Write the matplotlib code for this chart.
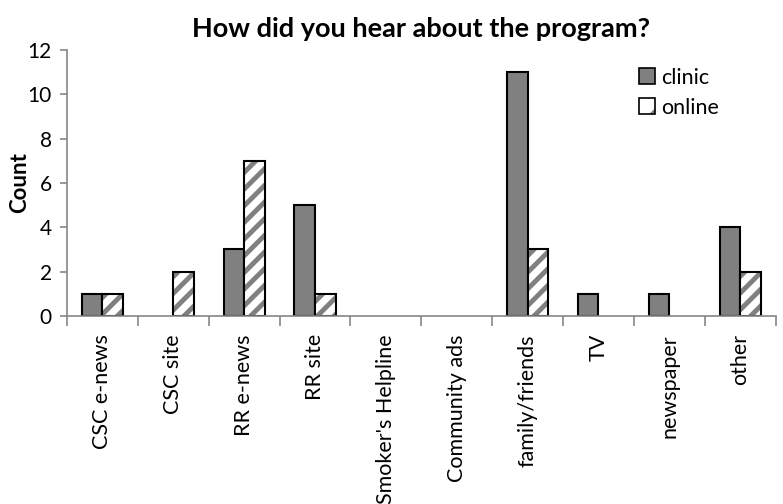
import numpy as np
import matplotlib.pyplot as plt
from matplotlib.patches import Patch

plt.rcParams['font.family'] = ['Lato', 'DejaVu Sans']
plt.rcParams['hatch.linewidth'] = 3.5

categories = ['CSC e-news', 'CSC site', 'RR e-news', 'RR site', "Smoker's Helpline",
              'Community ads', 'family/friends', 'TV', 'newspaper', 'other']
clinic = [1, 0, 3, 5, 0, 0, 11, 1, 1, 4]
online = [1, 2, 7, 1, 0, 0, 3, 0, 0, 2]
y_ticks = [0, 2, 4, 6, 8, 10, 12]

fig = plt.figure(figsize=(7.83, 5.04), dpi=100)
ax = fig.add_axes([0.0856, 0.373, 0.905, 0.528])

x = np.arange(len(categories))
w = 0.29
lw_c = [1.5 if v > 0 else 0 for v in clinic]
lw_o = [1.5 if v > 0 else 0 for v in online]

ax.bar(x - w / 2, clinic, w, color='#808080', edgecolor='black', linewidth=lw_c)
# hatched fill (gray stripes) then black outline on top
ax.bar(x + w / 2, online, w, color='white', edgecolor='#808080', linewidth=0, hatch='//')
ax.bar(x + w / 2, online, w, fill=False, edgecolor='black', linewidth=lw_o)

h_clinic = Patch(facecolor='#808080', edgecolor='black', linewidth=1.2)
h_online = (Patch(facecolor='white', edgecolor='#808080', linewidth=0, hatch='/'),
            Patch(fill=False, edgecolor='black', linewidth=1.2))

ax.set_xlim(-0.5, len(categories) - 0.5)
ax.set_ylim(0, 12)
ax.set_yticks(y_ticks)
ax.set_xticks(x)
ax.set_xticklabels(categories, rotation=90, fontsize=15.5)
ax.tick_params(axis='x', length=0, pad=13)
ax.set_xticks(np.arange(len(categories) + 1) - 0.5, minor=True)
ax.tick_params(axis='x', which='minor', length=7, width=1.2, color='#868686', direction='out')
ax.tick_params(axis='y', labelsize=15, length=5, width=1.2, color='#868686', direction='out', pad=6)

for s in ['top', 'right']:
    ax.spines[s].set_visible(False)
for s in ['left', 'bottom']:
    ax.spines[s].set_color('#868686')
    ax.spines[s].set_linewidth(1.2)

ax.set_ylabel('Count', fontsize=16, fontweight='bold')
ax.yaxis.set_label_coords(-0.052, 0.5)
ax.set_title('How did you hear about the program?', fontsize=19.5, fontweight='bold', pad=9)

ax.legend(handles=[h_clinic, h_online], labels=['clinic', 'online'],
          loc='upper left', bbox_to_anchor=(0.795, 0.965),
          frameon=False, fontsize=15.5, handlelength=0.75, handleheight=0.75,
          handletextpad=0.3, labelspacing=0.45, borderaxespad=0)

fig.savefig('out.png', dpi=100)
